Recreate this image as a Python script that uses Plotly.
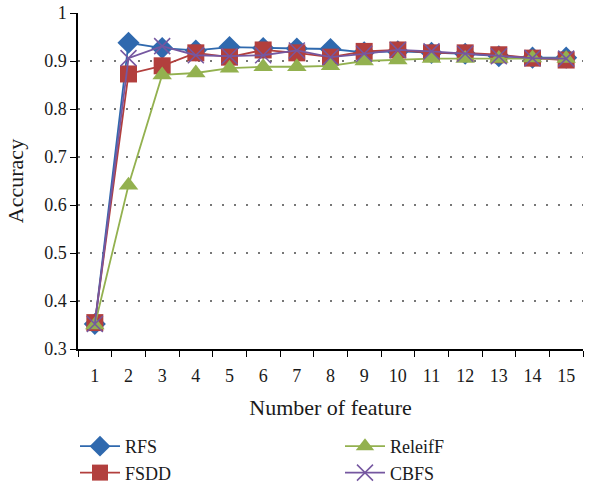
import plotly.graph_objects as go

features = [str(i) for i in range(1, 16)]
rfs     = [0.352, 0.938, 0.927, 0.922, 0.929, 0.927, 0.926, 0.925, 0.918, 0.920, 0.917, 0.915, 0.910, 0.907, 0.907]
fsdd    = [0.355, 0.873, 0.890, 0.917, 0.908, 0.923, 0.917, 0.908, 0.920, 0.923, 0.917, 0.917, 0.913, 0.906, 0.902]
releiff = [0.350, 0.641, 0.871, 0.875, 0.885, 0.888, 0.888, 0.890, 0.900, 0.902, 0.905, 0.905, 0.905, 0.906, 0.905]
cbfs    = [0.352, 0.906, 0.931, 0.912, 0.910, 0.912, 0.922, 0.908, 0.915, 0.923, 0.920, 0.915, 0.910, 0.906, 0.905]
y_ticks = [0.3, 0.4, 0.5, 0.6, 0.7, 0.8, 0.9, 1.0]
y_tick_text = ["0.3", "0.4", "0.5", "0.6", "0.7", "0.8", "0.9", "1"]

FONT = "Liberation Serif, serif"
W, H = 597, 486
L, R, T, B = 78, 14, 13, 137
plot_h = H - T - B
plot_w = W - L - R
fig = go.Figure()

series = [
    ("RFS", rfs, "#2F69AE", "diamond", 17, "legend"),
    ("FSDD", fsdd, "#B23F3D", "square", 17, "legend"),
    ("ReleifF", releiff, "#93B14F", "triangle-up", 17, "legend2"),
    ("CBFS", cbfs, "#7557A0", "x-thin", 16, "legend2"),
]
for name, vals, col, sym, size, leg in series:
    marker = dict(symbol=sym, size=size, color=col)
    if sym == "x-thin":
        marker["line"] = dict(color=col, width=1.5)
    fig.add_trace(go.Scatter(
        x=features, y=vals, name=name, mode="lines+markers",
        line=dict(color=col, width=1.8), marker=marker, legend=leg,
    ))

leg_top = (H - B - 428) / plot_h
leg_font = dict(family=FONT, size=18, color="#1a1a1a")
fig.update_layout(
    width=W, height=H,
    margin=dict(l=L, r=R, t=T, b=B, autoexpand=False),
    plot_bgcolor="white", paper_bgcolor="white",
    font=dict(family=FONT, size=18, color="#1a1a1a"),
    showlegend=True,
    legend=dict(x=(75 - L) / plot_w, y=leg_top, font=leg_font,
                xanchor="left", yanchor="top", itemwidth=40,
                tracegroupgap=0, bgcolor="rgba(0,0,0,0)"),
    legend2=dict(x=(340 - L) / plot_w, y=leg_top, font=leg_font,
                 xanchor="left", yanchor="top", itemwidth=40,
                 tracegroupgap=0, bgcolor="rgba(0,0,0,0)"),
)
fig.update_xaxes(
    type="category", tickson="boundaries", ticks="outside", ticklen=6,
    tickcolor="black", showline=True, linecolor="black", linewidth=1.5,
    showgrid=False, title=dict(text="Number of feature", standoff=14),
    ticklabelstandoff=10,
    range=[-0.5, 14.5], automargin=False,
)
fig.update_yaxes(
    range=[0.3, 1.0], tickvals=y_ticks, ticktext=y_tick_text,
    ticks="outside", ticklen=6, tickcolor="black",
    showline=True, linecolor="black", linewidth=1.5,
    showgrid=True, gridcolor="#777777", griddash="2px,10px", gridwidth=1.5,
    zeroline=False, title=dict(text="Accuracy", standoff=14),
    automargin=False,
)
fig.write_html("out.html", config={"displayModeBar": False},
               post_script="document.body.style.margin='0';")
